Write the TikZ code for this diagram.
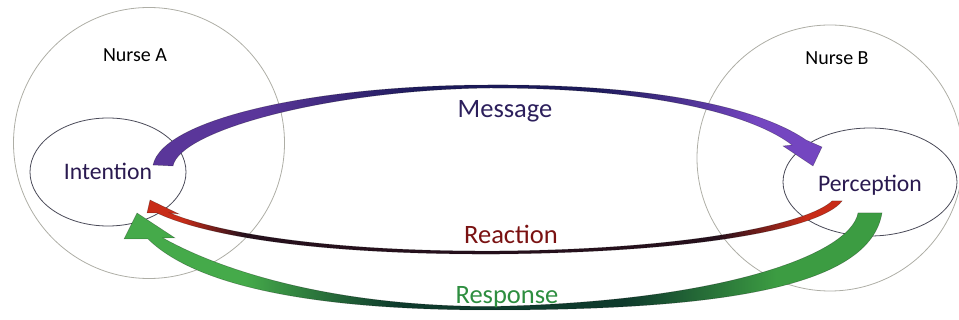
\documentclass[tikz,border=0pt]{standalone}
\usepackage{fontspec}
\setmainfont{Carlito}
\usetikzlibrary{shapes.geometric}
\definecolor{msgA}{HTML}{5A369A}
\definecolor{msgB}{HTML}{1C1A5A}
\definecolor{msgC}{HTML}{7446C0}
\definecolor{reaA}{HTML}{C82C18}
\definecolor{reaB}{HTML}{26101C}
\definecolor{resA}{HTML}{45AA4A}
\definecolor{resB}{HTML}{0E3A2C}
\definecolor{resC}{HTML}{3C9C42}
\definecolor{txtmsg}{HTML}{2C1F5C}
\definecolor{txtrea}{HTML}{7A1212}
\definecolor{txtres}{HTML}{2E8E40}
\definecolor{txtin}{HTML}{2A1A50}
\definecolor{ringgray}{HTML}{AEAEA6}
\definecolor{ellgray}{HTML}{4A4A58}
\pgfdeclarehorizontalshading{msgshade}{100bp}{color(0bp)=(msgA); color(33bp)=(msgA); color(45bp)=(msgB); color(58bp)=(msgB); color(70bp)=(msgC); color(100bp)=(msgC)}
\pgfdeclarehorizontalshading{reashade}{100bp}{color(0bp)=(reaA); color(27.5bp)=(reaA); color(32bp)=(reaB); color(66bp)=(reaB); color(72.5bp)=(reaA); color(100bp)=(reaA)}
\pgfdeclarehorizontalshading{resshade}{100bp}{color(0bp)=(resA); color(33bp)=(resA); color(43bp)=(resB); color(58bp)=(resB); color(68bp)=(resC); color(100bp)=(resC)}
\tikzset{
  ring/.style={circle, draw=ringgray, line width=0.8pt, inner sep=0pt},
  ell/.style={ellipse, draw=ellgray, line width=0.8pt, inner sep=0pt},
  arrowfill/.style={draw=black, draw opacity=0.3, line width=0.5pt},
  nurse/.style={anchor=base, font=\fontsize{20}{24}\selectfont, text=black},
  inner/.style={anchor=base, font=\fontsize{23.7}{28}\selectfont, text=txtin},
  flow/.style={anchor=base, font=\fontsize{26.5}{31}\selectfont}
}
\begin{document}
\begin{tikzpicture}[x=1pt,y=-1pt]
\useasboundingbox (0,0) rectangle (959,320);
\begin{scope}
\clip (0,0) rectangle (959,320);
\node[ring, minimum size=271pt] (nurseA) at (149,143) {};
\node[ring, minimum size=266pt] (nurseB) at (830,158) {};
\node[ell, minimum width=156pt, minimum height=108pt] (intentE) at (108,172) {};
\node[ell, minimum width=174pt, minimum height=108pt] (percE) at (870,182) {};
\end{scope}
% Message
\shadedraw[arrowfill, shading=msgshade]
 (173,166) .. controls (180,130) and (330,90) .. (490,88)
 .. controls (670,88) and (760,120) .. (792,145)
 -- (783,146) -- (813,166) -- (822,147) -- (806,140)
 .. controls (770,115) and (680,84) .. (490,85)
 .. controls (320,85) and (163,118) .. (153,165) -- cycle;
% Reaction
\shadedraw[arrowfill, shading=reashade]
 (832,201) .. controls (810,222) and (700,249) .. (500,251)
 .. controls (330,252) and (218,233) .. (170,213)
 -- (179,214) -- (150,200) -- (147,213) -- (157,213)
 .. controls (210,238) and (330,255) .. (500,254)
 .. controls (700,252) and (822,228) .. (842,201) -- cycle;
% Response
\shadedraw[arrowfill, shading=resshade]
 (858,213) .. controls (850,255) and (720,302) .. (490,306.5)
 .. controls (330,306) and (220,270) .. (163,238)
 -- (175,238) -- (137,213) -- (124,239) -- (148,239)
 .. controls (200,290) and (330,310) .. (490,310)
 .. controls (730,310) and (870,285) .. (882,213) -- cycle;
\node[nurse] (nA) at (135,62) {Nurse A};
\node[nurse] (nB) at (837,65) {Nurse B};
\node[inner] (intent) at (108,180) {Intention};
\node[inner] (percep) at (870,192) {Perception};
\node[flow, text=txtmsg] (msg) at (505,118) {Message};
\node[flow, text=txtrea] (rea) at (511,244) {Reaction};
\node[flow, text=txtres] (res) at (507,304) {Response};
\end{tikzpicture}
\end{document}
